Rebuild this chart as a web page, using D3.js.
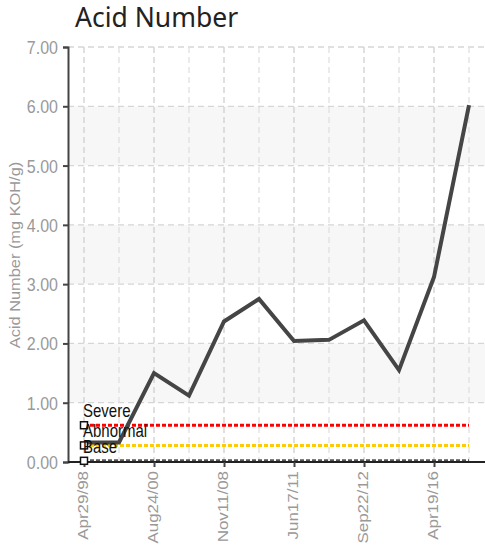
<!DOCTYPE html>
<html><head><meta charset="utf-8">
<script src="https://cdn.jsdelivr.net/npm/d3@7"></script>
<style>
body{margin:0;background:#fff;}
svg{display:block;}
.ar{font-family:"Liberation Sans",Arial,sans-serif;}
</style></head>
<body><svg id="c" width="485" height="549"></svg>
<script>
// ---- data ----
const categories = ["Apr29/98","d2","Aug24/00","d4","Nov11/08","d6","Jun17/11","d8","Sep22/12","d10","Apr19/16","d12"];
const tickLabels = ["Apr29/98","","Aug24/00","","Nov11/08","","Jun17/11","","Sep22/12","","Apr19/16",""];
const acidValues = [0.33, 0.33, 1.50, 1.12, 2.37, 2.75, 2.04, 2.06, 2.39, 1.55, 3.12, 6.02];
const yTicks = [0,1,2,3,4,5,6,7];
const limitNames = ["Severe","Abnormal","Base"];
const limitValues = [0.62, 0.28, 0.02];
const limitColors = ["#ff0000","#ffcc00","#555555"];

const SY = 1.17; // vertical stretch of the text glyphs
const svg = d3.select("#c");
const L = 68, R = 485, T = 47, B = 462;
const x = d3.scalePoint().domain(categories).range([L, R]).padding(0.457);
const y = d3.scaleLinear().domain([0,7]).range([B, T]);

// bands
svg.append("g").selectAll("rect").data([1,3,5]).join("rect")
  .attr("x", L).attr("width", R-L)
  .attr("y", d=>y(d+1)).attr("height", d=>y(d)-y(d+1))
  .attr("fill","#f7f7f7");

// horizontal grid
svg.append("g").selectAll("line").data(yTicks.slice(1)).join("line")
  .attr("x1", L).attr("x2", R).attr("y1", d=>y(d)).attr("y2", d=>y(d))
  .attr("stroke","#d6d6d6").attr("stroke-width",1.3).attr("stroke-dasharray","6,4");

// vertical grid
svg.append("g").selectAll("line").data(categories).join("line")
  .attr("x1", d=>x(d)).attr("x2", d=>x(d)).attr("y1", T).attr("y2", B)
  .attr("stroke",(d,i)=>tickLabels[i] ? "#d0d0d0" : "#e0e0e0")
  .attr("stroke-width",1.3).attr("stroke-dasharray","6,4");

// limit lines
const first = categories[0], last = categories[categories.length-1];
svg.append("g").selectAll("line").data(limitValues).join("line")
  .attr("x1", x(first)).attr("x2", x(last))
  .attr("y1", d=>y(d)).attr("y2", d=>y(d))
  .attr("stroke",(d,i)=>limitColors[i]).attr("stroke-width",3)
  .attr("stroke-dasharray","4,2");

// data line
svg.append("path").datum(acidValues)
  .attr("d", d3.line().x((d,i)=>x(categories[i])).y(d=>y(d)))
  .attr("fill","none").attr("stroke","#454545").attr("stroke-width",4)
  .attr("stroke-linejoin","miter");

// axes
const yAxis = svg.append("g").attr("transform",`translate(${L},0)`)
  .call(d3.axisLeft(y).tickValues(yTicks).tickFormat(d3.format(".2f")).tickSize(5).tickPadding(5));
yAxis.select(".domain").attr("stroke","#444").attr("stroke-width",2);
yAxis.selectAll(".tick line").attr("stroke","#444").attr("stroke-width",2);
yAxis.selectAll("text").attr("class","ar").attr("font-size",16).attr("fill","#999")
  .attr("x",-10).attr("dy","0.35em").attr("transform",`scale(1,${SY})`);

const xAxis = svg.append("g").attr("transform",`translate(0,${B})`)
  .call(d3.axisBottom(x).tickValues(categories.filter((c,i)=>tickLabels[i])).tickFormat((d)=>tickLabels[categories.indexOf(d)]).tickSize(5).tickSizeOuter(0));
xAxis.select(".domain").attr("stroke","#222").attr("stroke-width",2).attr("d",`M${L},0H${R}`);
xAxis.selectAll(".tick line").attr("stroke","#444").attr("stroke-width",2);
xAxis.selectAll("text").attr("class","ar").attr("font-size",14.5).attr("fill","#999")
  .attr("text-anchor","end").attr("transform",`rotate(-90) scale(${SY},1)`)
  .attr("x",-9/SY).attr("y",-1.5).attr("dy","0.35em");

// limit markers and labels
svg.append("g").selectAll("rect").data(limitValues).join("rect")
  .attr("x", x(first)-3.5).attr("y", d=>y(d)-3.5).attr("width",7).attr("height",7)
  .attr("fill","#fff").attr("stroke","#111").attr("stroke-width",1.5);
svg.append("g").selectAll("text").data(limitValues).join("text")
  .attr("class","ar")
  .attr("transform", d=>`translate(${x(first)-1},${y(d)-8}) scale(1,${SY})`)
  .attr("font-size",15).attr("fill","#111").text((d,i)=>limitNames[i]);

// titles
svg.append("text").attr("x",75).attr("y",27).attr("font-family","Noto Sans")
  .attr("font-size",26.5).attr("fill","#222").text("Acid Number");
svg.append("text").attr("class","ar").attr("transform",`translate(20,255) rotate(-90) scale(${SY},1)`)
  .attr("text-anchor","middle").attr("font-size",14).attr("fill","#999")
  .text("Acid Number (mg KOH/g)");
</script></body></html>
